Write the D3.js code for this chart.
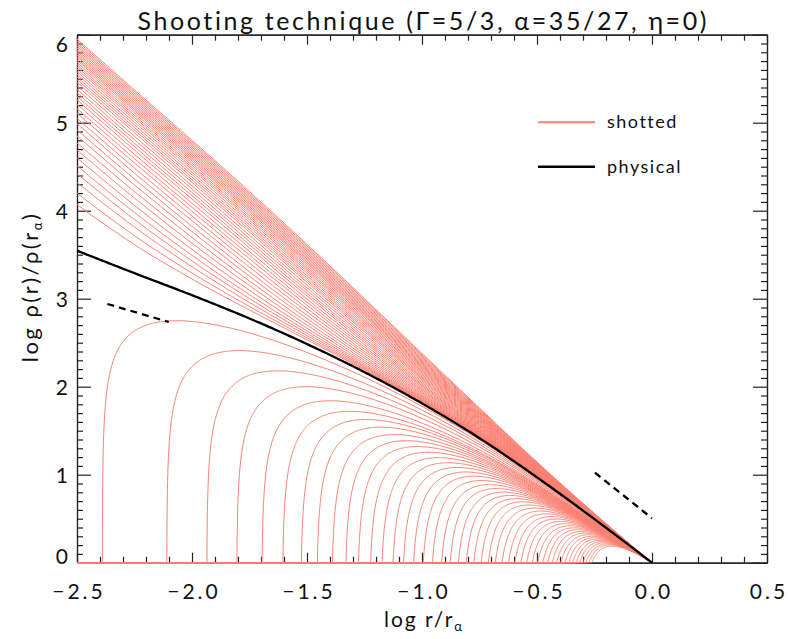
<!DOCTYPE html>
<html>
<head>
<meta charset="utf-8">
<script src="https://cdn.jsdelivr.net/npm/d3@7"></script>
<style>
  body { margin: 0; background: #fff; }
  text { font-family: Lato, "DejaVu Sans", sans-serif; fill: #111; font-variant-ligatures: none; }
</style>
</head>
<body>
<script>
// physical solution
const physX = [-2.5, -2.25, -2.0, -1.75, -1.5, -1.25, -1.0, -0.75, -0.5, -0.25, 0];
const physY = [3.545, 3.29, 3.04, 2.775, 2.485, 2.165, 1.81, 1.415, 0.97, 0.495, 0];

// shotted curves above the physical one: value at the left edge (x = -2.5)
const upperLeftY = [4.07, 4.20, 4.32, 4.42, 4.51, 4.60, 4.69, 4.77, 4.85, 4.92,
  4.99, 5.05, 5.11, 5.16, 5.21, 5.26, 5.30, 5.34, 5.38, 5.42, 5.46, 5.49, 5.52,
  5.55, 5.58, 5.61, 5.635, 5.66, 5.685, 5.71, 5.73, 5.75, 5.77, 5.79, 5.81, 5.83,
  5.85, 5.87, 5.89, 5.91, 5.93, 5.95];

// shotted curves below: where each one drops to the floor, and its maximum
const lowerFootX = [-2.39, -2.11, -1.936, -1.806, -1.697, -1.607, -1.527, -1.458,
  -1.393, -1.335, -1.281, -1.229, -1.180, -1.133, -1.088, -1.045, -1.004, -0.965,
  -0.926, -0.890, -0.855, -0.822, -0.790, -0.759, -0.729, -0.700, -0.672, -0.645,
  -0.619, -0.594, -0.570, -0.547, -0.525, -0.504, -0.484, -0.465, -0.447, -0.430,
  -0.413, -0.397, -0.382, -0.367, -0.353, -0.340, -0.327, -0.315, -0.303];
const lowerPeakY = [2.75, 2.41, 2.18, 2.00, 1.84, 1.72, 1.627, 1.540, 1.456, 1.386,
  1.32, 1.255, 1.194, 1.136, 1.082, 1.031, 0.983, 0.934, 0.887, 0.843, 0.802, 0.764,
  0.727, 0.692, 0.656, 0.621, 0.587, 0.555, 0.525, 0.496, 0.469, 0.443, 0.419,
  0.396, 0.375, 0.355, 0.336, 0.318, 0.300, 0.284, 0.269, 0.254, 0.240, 0.227,
  0.214, 0.202, 0.189];

// reference slopes (dashed)
const dashLeft = [[-2.368, 2.94], [-2.101, 2.735]];
const dashRight = [[-0.248, 1.023], [0.0, 0.505]];

const xMajor = [-2.5, -2.0, -1.5, -1.0, -0.5, 0.0, 0.5];
const xLabels = ["\u22122.5", "\u22122.0", "\u22121.5", "\u22121.0", "\u22120.5", "0.0", "0.5"];
const yMajor = [0, 1, 2, 3, 4, 5, 6];

const width = 788, height = 639;
const pLeft = 77, pRight = 767, pTop = 34.7, pBottom = 562.7;
const salmon = '#fa8072';

const x = d3.scaleLinear().domain([-2.5, 0.5]).range([pLeft, pRight]);
const y = d3.scaleLinear().domain([0, 6]).range([pBottom, pTop]);

const svg = d3.select('body').append('svg')
  .attr('width', width)
  .attr('height', height);

// monotone cubic through the physical points
const n = physX.length;
const hx = [], sl = [], m = [];
for (let i = 0; i < n - 1; i++) {
  hx[i] = physX[i + 1] - physX[i];
  sl[i] = (physY[i + 1] - physY[i]) / hx[i];
}
m[0] = sl[0];
for (let i = 1; i < n - 1; i++) m[i] = sl[i - 1] * sl[i] <= 0 ? 0 : (sl[i - 1] + sl[i]) / 2;
m[n - 1] = sl[n - 2];
for (let i = 0; i < n - 1; i++) {
  const a = m[i] / sl[i], b = m[i + 1] / sl[i], s = a * a + b * b;
  if (s > 9) { const t = 3 / Math.sqrt(s); m[i] = t * a * sl[i]; m[i + 1] = t * b * sl[i]; }
}
function phys(xv) {
  let i = 0;
  while (i < n - 2 && xv > physX[i + 1]) i++;
  const h = hx[i], t = (xv - physX[i]) / h, t2 = t * t, t3 = t2 * t;
  return (2 * t3 - 3 * t2 + 1) * physY[i] + (t3 - 2 * t2 + t) * h * m[i]
    + (-2 * t3 + 3 * t2) * physY[i + 1] + (t3 - t2) * h * m[i + 1];
}

// a shotted curve = physical + log of a growing perturbation
function lowerY(xv, xf, q) {
  const eps = -1 / (Math.pow(10, -q * xf) - 1);
  const a = 1 + eps * (Math.pow(10, -q * xv) - 1);
  return a <= 0 ? -Infinity : phys(xv) + Math.log10(a);
}
function peakOf(xf, q) {
  let best = -Infinity;
  for (let i = 1; i <= 300; i++) {
    const t = i / 300;
    best = Math.max(best, lowerY(xf - xf * t * t, xf, q));
  }
  return best;
}
function fitQ(xf, pk) {
  let lo = Math.log(0.02), hi = Math.log(40);
  for (let k = 0; k < 40; k++) {
    const mid = (lo + hi) / 2;
    if (peakOf(xf, Math.exp(mid)) < pk) lo = mid; else hi = mid;
  }
  return Math.exp((lo + hi) / 2);
}

const line = d3.line().x(d => x(d[0])).y(d => y(d[1]));

// clip
svg.append('defs').append('clipPath').attr('id', 'plot')
  .append('rect').attr('x', pLeft).attr('y', pTop)
  .attr('width', pRight - pLeft).attr('height', pBottom - pTop + 1.5);

// axes
function styleAxis(g) {
  g.attr('font-family', null).attr('font-size', null);
  g.selectAll('path, line').attr('stroke', '#222').attr('stroke-width', 1.2);
}
const xMinor = d3.range(-25, 6).map(v => v / 10).filter(v => Math.abs(v * 2 - Math.round(v * 2)) > 1e-6);
const yMinor = d3.range(0, 61).map(v => v / 10).filter(v => Math.abs(v - Math.round(v)) > 1e-6);

svg.append('g').attr('transform', `translate(0,${pBottom})`)
  .call(d3.axisBottom(x).tickValues(xMinor).tickSize(-6).tickSizeOuter(0).tickFormat(''))
  .call(styleAxis);
svg.append('g').attr('transform', `translate(0,${pTop})`)
  .call(d3.axisTop(x).tickValues(xMinor).tickSize(-6).tickSizeOuter(0).tickFormat(''))
  .call(styleAxis);
svg.append('g').attr('transform', `translate(${pLeft},0)`)
  .call(d3.axisLeft(y).tickValues(yMinor).tickSize(-6).tickSizeOuter(0).tickFormat(''))
  .call(styleAxis);
svg.append('g').attr('transform', `translate(${pRight},0)`)
  .call(d3.axisRight(y).tickValues(yMinor).tickSize(-6).tickSizeOuter(0).tickFormat(''))
  .call(styleAxis);

const bx = svg.append('g').attr('transform', `translate(0,${pBottom})`)
  .call(d3.axisBottom(x).tickValues(xMajor).tickSize(-10).tickSizeOuter(0)
    .tickFormat((d, i) => xLabels[i]))
  .call(styleAxis);
bx.selectAll('text').attr('y', 36.5).attr('dy', null).attr('font-size', 21)
  .attr('letter-spacing', 3).attr('dx', 1.5);
svg.append('g').attr('transform', `translate(0,${pTop})`)
  .call(d3.axisTop(x).tickValues(xMajor).tickSize(-10).tickSizeOuter(0).tickFormat(''))
  .call(styleAxis);
const ly = svg.append('g').attr('transform', `translate(${pLeft},0)`)
  .call(d3.axisLeft(y).tickValues(yMajor).tickSize(-14).tickSizeOuter(0).tickFormat(d3.format('d')))
  .call(styleAxis);
ly.selectAll('.tick text').attr('x', -9).attr('dy', null).attr('font-size', 21)
  .attr('y', d => Math.min(Math.max(0, pTop + 9 - y(d)), pBottom - 7 - y(d)) + 7.5);
svg.append('g').attr('transform', `translate(${pRight},0)`)
  .call(d3.axisRight(y).tickValues(yMajor).tickSize(-14).tickSizeOuter(0).tickFormat(''))
  .call(styleAxis);

// curves
const plot = svg.append('g').attr('clip-path', 'url(#plot)');

upperLeftY.forEach(ly0 => {
  const q = 1.3;
  const eps = (Math.pow(10, ly0 - phys(-2.5)) - 1) / (Math.pow(10, 2.5 * q) - 1);
  const pts = d3.range(0, 201).map(i => {
    const xv = -2.5 + 2.5 * i / 200;
    return [xv, phys(xv) + Math.log10(1 + eps * (Math.pow(10, -q * xv) - 1))];
  });
  plot.append('path').attr('d', line(pts))
    .attr('fill', 'none').attr('stroke', salmon).attr('stroke-width', 1);
});

lowerFootX.forEach((xf, k) => {
  const q = fitQ(xf, lowerPeakY[k]);
  const pts = [[-2.5, 0], [xf, 0]];
  for (let i = 1; i <= 260; i++) {
    const t = i / 260;
    const xv = xf - xf * t * t * t;
    pts.push([xv, Math.max(0, lowerY(xv, xf, q))]);
  }
  plot.append('path').attr('d', line(pts))
    .attr('fill', 'none').attr('stroke', salmon).attr('stroke-width', 1);
});

const physPts = d3.range(0, 251).map(i => {
  const xv = -2.5 + 2.5 * i / 250;
  return [xv, phys(xv)];
});
plot.append('path').attr('d', line(physPts))
  .attr('fill', 'none').attr('stroke', '#000').attr('stroke-width', 2.3);

[dashLeft, dashRight].forEach(seg => {
  svg.append('path').attr('d', line(seg))
    .attr('fill', 'none').attr('stroke', '#000').attr('stroke-width', 2.3)
    .attr('stroke-dasharray', '7,5');
});

// legend
const legend = [['shotted', salmon, 2, 122.3], ['physical', '#000', 2.6, 166.7]];
legend.forEach(([name, col, w, ly0]) => {
  svg.append('line').attr('x1', 538).attr('x2', 595).attr('y1', ly0).attr('y2', ly0)
    .attr('stroke', col).attr('stroke-width', w);
  svg.append('text').attr('x', 607).attr('y', ly0 + 6).attr('font-size', 18)
    .attr('letter-spacing', 1.5).text(name);
});

// title and axis labels
svg.append('text').attr('x', (pLeft + pRight) / 2).attr('y', 30)
  .attr('text-anchor', 'middle').attr('font-size', 25)
  .attr('textLength', 569).attr('lengthAdjust', 'spacing')
  .text('Shooting technique (\u0393=5/3, \u03b1=35/27, \u03b7=0)');

const xl = svg.append('text').attr('x', (pLeft + pRight) / 2 + 2).attr('y', 627)
  .attr('text-anchor', 'middle').attr('font-size', 21).attr('letter-spacing', 2);
xl.append('tspan').text('log r/r');
xl.append('tspan').attr('font-size', 13).attr('dy', 4).text('\u03b1');

const yl = svg.append('text')
  .attr('transform', `translate(38,287) rotate(-90)`)
  .attr('text-anchor', 'middle').attr('font-size', 22).attr('letter-spacing', 2.5);
yl.append('tspan').text('log \u03c1(r)/\u03c1(r');
yl.append('tspan').attr('font-size', 13).attr('dy', 4).text('\u03b1');
yl.append('tspan').attr('dy', -4).text(')');
</script>
</body>
</html>
